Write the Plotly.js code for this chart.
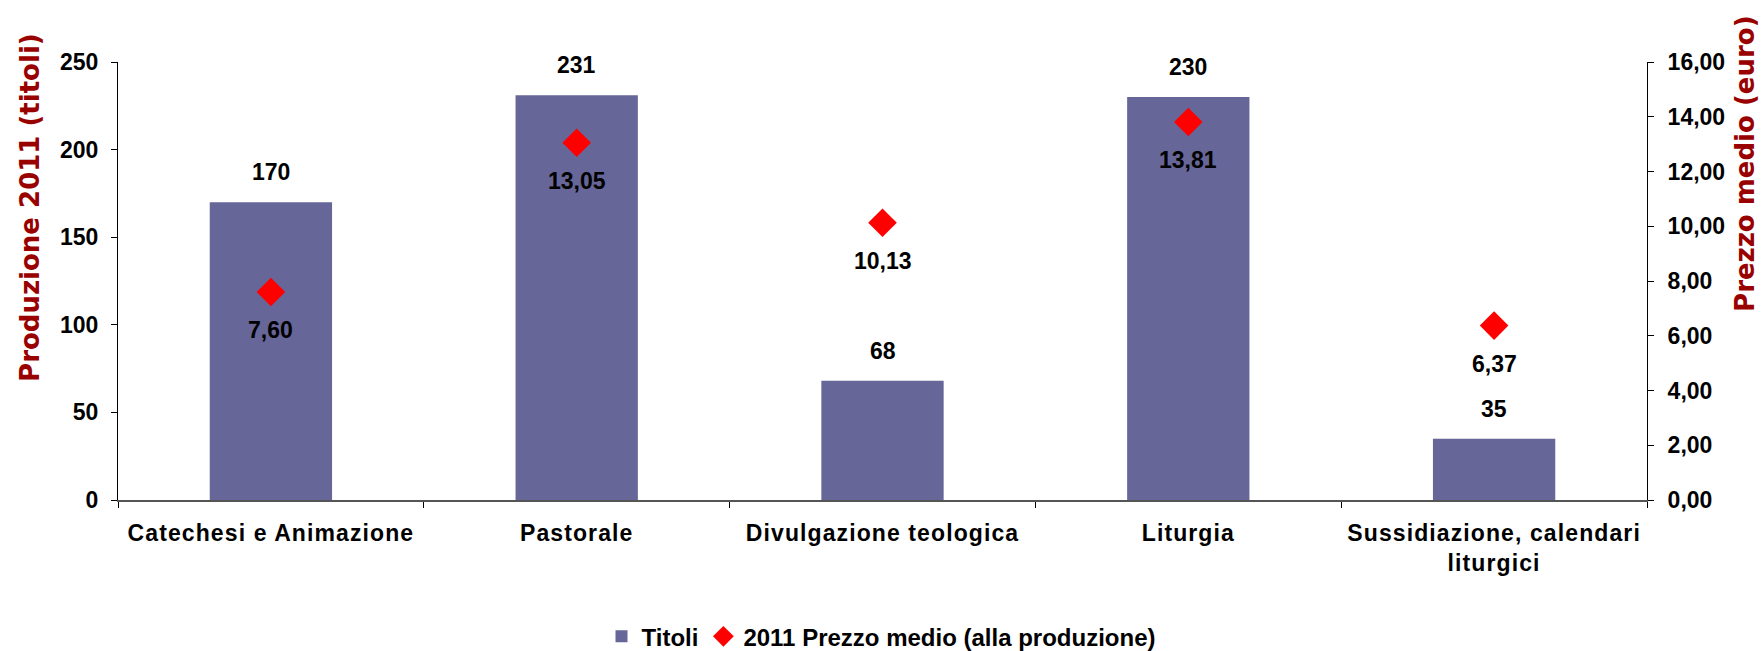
<!DOCTYPE html>
<html>
<head>
<meta charset="utf-8">
<script src="https://cdn.plot.ly/plotly-3.0.1.min.js"></script>
<style>
html,body{margin:0;padding:0;background:#fff;}
#chart{width:1762px;height:651px;}
#chart .xtick text{letter-spacing:1.1px;}
</style>
</head>
<body>
<div id="chart"></div>
<script>
const categories = ['Catechesi e Animazione', 'Pastorale', 'Divulgazione teologica', 'Liturgia', 'Sussidiazione, calendari<br>liturgici'];
const titoli = [170, 231, 68, 230, 35];
const prezzoMedio = [7.60, 13.05, 10.13, 13.81, 6.37];
const leftTicks = [0, 50, 100, 150, 200, 250];
const rightTicks = [0, 2, 4, 6, 8, 10, 12, 14, 16];

const fontMain = {family: 'Liberation Sans, Arial, sans-serif', size: 23, color: '#000000', weight: 'bold'};
const legendFont = {family: 'Liberation Sans, Arial, sans-serif', size: 24, color: '#000000', weight: 'bold'};
const titleFont = {family: 'DejaVu Sans, Verdana, sans-serif', size: 26, color: '#990000', weight: 'bold'};
const fmt = v => v.toFixed(2).replace('.', ',');

const traces = [
  {
    type: 'bar', name: 'Titoli', x: categories, y: titoli,
    marker: {color: '#666699'}, width: 0.4, hoverinfo: 'skip'
  },
  {
    type: 'scatter', mode: 'markers', name: '2011 Prezzo medio (alla produzione)',
    x: categories, y: prezzoMedio, yaxis: 'y2',
    marker: {symbol: 'diamond', size: 22, color: '#ff0000'}, hoverinfo: 'skip'
  }
];

const annotations = [];
categories.forEach((c, i) => {
  annotations.push({x: c, y: titoli[i], xref: 'x', yref: 'y', text: String(titoli[i]),
    showarrow: false, yshift: 30, font: fontMain});
  annotations.push({x: c, y: prezzoMedio[i], xref: 'x', yref: 'y2', text: fmt(prezzoMedio[i]),
    showarrow: false, yshift: -38, font: fontMain});
});
annotations.push({xref: 'paper', yref: 'paper', x: -0.0576, y: 0.669, text: 'Produzione 2011 (titoli)',
  textangle: -90, showarrow: false, font: titleFont, xanchor: 'center', yanchor: 'middle'});
annotations.push({xref: 'paper', yref: 'paper', x: 1.064, y: 0.767, text: 'Prezzo medio (euro)',
  textangle: -90, showarrow: false, font: titleFont, xanchor: 'center', yanchor: 'middle'});

const layout = {
  width: 1762, height: 651,
  margin: {l: 118, r: 115, t: 62, b: 151, pad: 0, autoexpand: false},
  paper_bgcolor: '#ffffff', plot_bgcolor: '#ffffff',
  separators: ',.',
  showlegend: true,
  legend: {orientation: 'h', x: 0.5, xanchor: 'center', xref: 'container', y: 0.022, yanchor: 'middle',
    yref: 'container', font: legendFont, itemwidth: 30, tracegroupgap: 0},
  xaxis: {
    type: 'category', showline: true, linecolor: '#555555', linewidth: 1.5, automargin: false,
    ticks: 'outside', tickson: 'boundaries', ticklen: 6, tickcolor: '#000000',
    showgrid: false, zeroline: false, tickfont: fontMain, ticklabelstandoff: 12
  },
  yaxis: {
    range: [0, 250], tickvals: leftTicks, showline: true, linecolor: '#000000', linewidth: 1,
    automargin: false,
    ticks: 'outside', ticklen: 6, tickcolor: '#000000', showgrid: false, zeroline: false,
    tickfont: fontMain, ticklabelstandoff: 8
  },
  yaxis2: {
    range: [0, 16], tickvals: rightTicks, tickformat: '.2f', overlaying: 'y', side: 'right',
    showline: true, linecolor: '#000000', linewidth: 1, automargin: false,
    ticks: 'outside', ticklen: 6, tickcolor: '#000000', showgrid: false, zeroline: false,
    tickfont: fontMain, ticklabelstandoff: 9
  },
  yaxis3: {
    range: [0, 250], tickvals: leftTicks, overlaying: 'y', side: 'left', anchor: 'x',
    ticks: 'inside', ticklen: 6, tickcolor: '#000000', showticklabels: false, automargin: false,
    showline: false, showgrid: false, zeroline: false
  },
  yaxis4: {
    range: [0, 16], tickvals: rightTicks, overlaying: 'y', side: 'right', anchor: 'x',
    ticks: 'inside', ticklen: 6, tickcolor: '#000000', showticklabels: false, automargin: false,
    showline: false, showgrid: false, zeroline: false
  },
  annotations: annotations
};

Plotly.newPlot('chart', traces, layout, {displayModeBar: false, staticPlot: true});
</script>
</body>
</html>
